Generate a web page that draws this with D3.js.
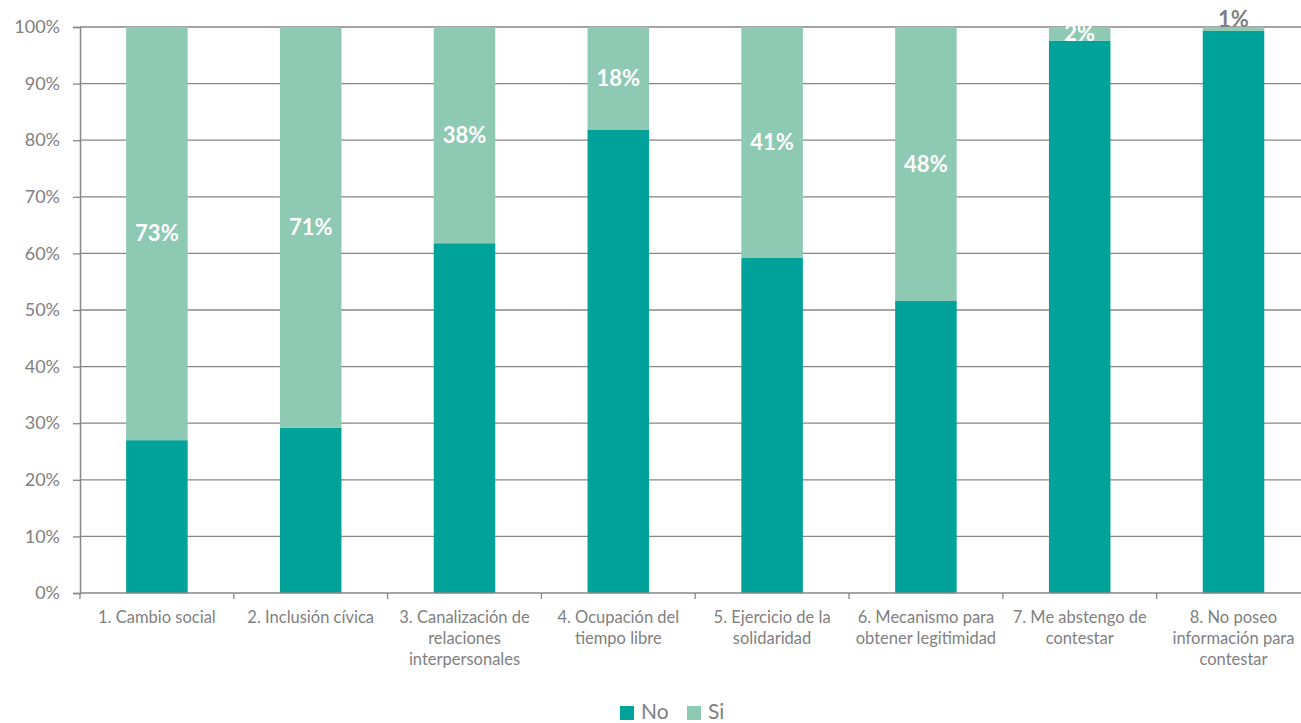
<!DOCTYPE html>
<html><head><meta charset="utf-8">
<script src="https://cdn.jsdelivr.net/npm/d3@7"></script>
<style>body{margin:0;background:#fff;overflow:hidden}svg{display:block}</style>
</head><body>
<svg id="c" width="1301" height="723"></svg>
<script>
const categories = [
  ["1. Cambio social"],
  ["2. Inclusión cívica"],
  ["3. Canalización de","relaciones","interpersonales"],
  ["4. Ocupación del","tiempo libre"],
  ["5. Ejercicio de la","solidaridad"],
  ["6. Mecanismo para","obtener legitimidad"],
  ["7. Me abstengo de","contestar"],
  ["8. No poseo","información para","contestar"]
];
const noValues = [27.0, 29.2, 61.8, 81.8, 59.2, 51.6, 97.6, 99.3];
const siValues = [73.0, 70.8, 38.2, 18.2, 40.8, 48.4, 2.4, 0.7];
const yTicks = [0,10,20,30,40,50,60,70,80,90,100];
const seriesNames = ["No","Si"];
const colors = {No:"#00a29a", Si:"#8ec9b4"};

const svg = d3.select("#c");
const font = "Lato, 'Open Sans', sans-serif";
const mLeft = 80, mTop = 27, mBottom = 593;
const step = 153.8;
const x = d3.scaleBand().domain(d3.range(categories.length)).range([mLeft, mLeft + step*categories.length]).paddingInner(0.6).paddingOuter(0.3);
const y = d3.scaleLinear().domain([0,100]).range([mBottom, mTop]);
const grey = "#868686";

// gridlines
svg.append("g").selectAll("line").data(yTicks.filter(d=>d>0)).join("line")
  .attr("x1", mLeft).attr("x2", 1301).attr("y1", d=>y(d)).attr("y2", d=>y(d))
  .attr("stroke", grey).attr("stroke-width", 1.3);

const rows = categories.map((c,i)=>({i, No:noValues[i], Si:siValues[i]}));
const stack = d3.stack().keys(seriesNames)(rows);
svg.append("g").selectAll("g").data(stack).join("g").attr("fill", d=>colors[d.key])
  .selectAll("rect").data(d=>d).join("rect")
  .attr("x", d=>x(d.data.i)).attr("width", x.bandwidth())
  .attr("y", d=>y(d[1])).attr("height", d=>y(d[0])-y(d[1]));

// y axis
const yAxis = svg.append("g").attr("transform", `translate(${mLeft},0)`)
  .call(d3.axisLeft(y).tickValues(yTicks).tickFormat(d=>d+"%").tickSize(7).tickPadding(13));
yAxis.select(".domain").attr("stroke", grey).attr("stroke-width",1.5);
yAxis.selectAll(".tick line").attr("stroke", grey).attr("stroke-width",1.3);
yAxis.selectAll("text").attr("fill","#7f7f7f").style("font-family",font).style("font-size","18px");

// x axis baseline and ticks
const xg = svg.append("g");
xg.append("line").attr("x1",mLeft).attr("x2",1301).attr("y1",mBottom).attr("y2",mBottom).attr("stroke",grey).attr("stroke-width",1.5);
xg.selectAll(".tk").data(d3.range(categories.length+1)).join("line").attr("class","tk")
  .attr("x1", d=>mLeft + d*step).attr("x2", d=>mLeft + d*step).attr("y1",mBottom).attr("y2",mBottom+6)
  .attr("stroke",grey).attr("stroke-width",1.3);
xg.selectAll("text").data(categories).join("text")
  .attr("text-anchor","middle").attr("fill","#7f7f7f").style("font-family",font).style("font-size","16.5px")
  .each(function(lines,i){
    const t = d3.select(this);
    lines.forEach((l,j)=>t.append("tspan").attr("x", x(i)+x.bandwidth()/2).attr("y", 623 + j*21).text(l));
  });

// labels for Si
svg.append("g").selectAll("text").data(rows).join("text")
  .attr("x", d=>x(d.i)+x.bandwidth()/2)
  .attr("y", d=> d.Si < 1 ? y(100)-8 : y(d.No + d.Si/2))
  .attr("dy","0.35em").attr("text-anchor","middle")
  .attr("fill", d=> d.Si < 1 ? "#7f7f7f" : "#ffffff")
  .style("font-family",font).style("font-weight","bold").style("font-size","22px")
  .text(d=>Math.round(d.Si)+"%");

// legend
const lg = svg.append("g");
const lx = [620, 687];
seriesNames.forEach((s,i)=>{
  lg.append("rect").attr("x",lx[i]).attr("y",706).attr("width",14).attr("height",14).attr("fill",colors[s]);
  lg.append("text").attr("x",lx[i]+21).attr("y",719).attr("fill","#7f7f7f").style("font-family",font).style("font-size","21px").text(s);
});
</script>
</body></html>
